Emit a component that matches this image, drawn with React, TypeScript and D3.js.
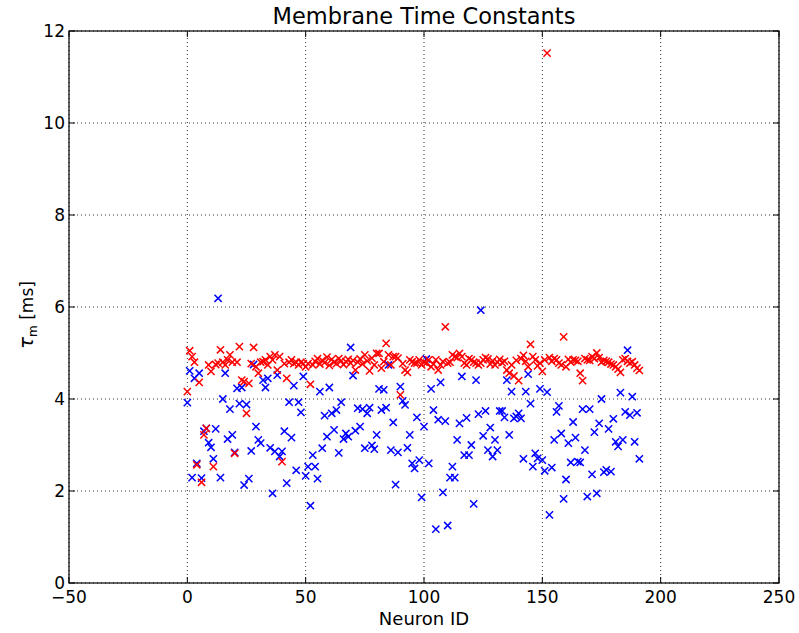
import React, { useRef, useEffect } from 'react';
import * as d3 from 'd3';

// membrane time constants per neuron (index = neuron ID)
const redValues: number[] = [
  4.16, 5.05, 4.92, 4.8, 2.57, 4.36, 2.19, 3.22, 3.36, 4.74,
  4.6, 2.53, 4.75, 4.78, 5.07, 4.8, 4.74, 4.85, 4.96, 4.8,
  2.82, 4.8, 5.14, 4.41, 4.38, 3.69, 4.34, 4.77, 5.12, 4.7,
  4.56, 4.8, 4.81, 4.85, 4.74, 4.92, 4.85, 4.96, 4.63, 4.92,
  2.64, 4.77, 4.45, 4.8, 4.85, 4.77, 4.8, 4.74, 4.8, 4.77,
  4.7, 4.77, 4.32, 4.74, 4.82, 4.88, 4.76, 4.84, 4.79, 4.91,
  4.73, 4.86, 4.8, 4.77, 4.88, 4.83, 4.75, 4.81, 4.86, 4.78,
  4.84, 4.63, 4.8, 4.87, 4.76, 4.96, 4.83, 4.61, 4.89, 4.74,
  4.99, 4.99, 4.67, 4.81, 5.21, 4.96, 4.74, 4.92, 4.92, 4.89,
  4.09, 4.77, 4.63, 4.58, 4.85, 4.81, 4.78, 4.78, 4.85, 4.74,
  4.8, 4.78, 4.85, 4.7, 4.76, 4.85, 4.63, 4.74, 4.81, 5.57,
  4.78, 4.8, 4.96, 4.92, 4.9, 4.99, 4.92, 4.78, 4.74, 4.88,
  4.85, 4.8, 4.78, 4.74, 4.78, 4.85, 4.9, 4.87, 4.76, 4.83,
  4.74, 4.8, 4.86, 4.79, 4.82, 4.63, 4.56, 4.74, 4.5, 4.84,
  4.4, 4.88, 4.95, 4.82, 4.7, 5.19, 4.92, 4.85, 4.72, 4.78,
  4.6, 4.85, 11.52, 4.9, 4.82, 4.88, 4.85, 4.78, 4.74, 5.35,
  4.7, 4.86, 4.8, 4.85, 4.84, 4.82, 4.56, 4.4, 4.88, 4.85,
  4.84, 4.92, 4.88, 5.0, 4.9, 4.8, 4.84, 4.82, 4.8, 4.76,
  4.74, 4.7, 4.65, 4.58, 4.85, 4.88, 4.82, 4.78, 4.81, 4.74,
  4.67, 4.62,
];

const blueValues: number[] = [
  3.92, 4.61, 2.29, 4.45, 2.6, 4.56, 2.28, 3.3, 3.36, 3.05,
  2.95, 2.7, 3.35, 6.19, 2.29, 4.0, 4.56, 3.13, 3.78, 3.22,
  2.84, 4.23, 3.9, 4.25, 2.13, 3.88, 2.27, 2.87, 4.75, 3.4,
  3.11, 3.04, 4.41, 4.25, 4.45, 2.94, 1.95, 2.86, 4.52, 2.75,
  2.86, 3.3, 2.17, 3.93, 3.16, 4.29, 2.45, 3.93, 3.71, 4.49,
  2.33, 2.53, 1.68, 2.78, 2.53, 2.27, 4.16, 2.93, 3.64, 3.18,
  4.25, 3.69, 3.33, 3.76, 2.83, 3.93, 3.13, 3.25, 3.18, 5.12,
  4.51, 3.31, 3.8, 3.4, 3.78, 2.93, 3.69, 3.81, 2.99, 2.91,
  3.22, 4.22, 3.76, 4.2, 3.81, 4.74, 2.89, 3.49, 2.14, 2.84,
  4.27, 3.96, 3.87, 2.94, 3.22, 2.6, 2.49, 3.6, 2.67, 1.86,
  3.4, 4.87, 2.6, 4.22, 3.76, 1.17, 3.55, 4.36, 1.97, 3.52,
  1.25, 2.29, 2.53, 2.29, 3.11, 3.47, 4.49, 2.78, 3.59, 2.78,
  3.0, 1.72, 4.41, 3.67, 5.93, 3.2, 3.74, 2.89, 3.38, 2.75,
  3.11, 2.89, 3.74, 3.74, 3.6, 4.41, 3.22, 4.16, 3.58, 3.62,
  3.69, 3.58, 2.7, 4.16, 4.54, 3.9, 2.53, 2.82, 2.71, 4.22,
  2.67, 2.44, 4.15, 1.48, 2.51, 3.11, 3.72, 3.85, 3.25, 1.83,
  2.25, 3.04, 2.62, 3.5, 3.16, 2.64, 2.62, 3.78, 2.89, 1.88,
  3.78, 2.36, 3.28, 1.95, 3.47, 4.0, 2.41, 2.46, 3.35, 2.42,
  3.57, 3.07, 2.97, 4.14, 3.11, 3.72, 5.06, 3.65, 4.05, 3.07,
  3.7, 2.7,
];

const xTicks = [-50, 0, 50, 100, 150, 200, 250];
const yTicks = [0, 2, 4, 6, 8, 10, 12];

const fmt = (v: number) => (v < 0 ? '\u2212' + Math.abs(v) : String(v));

const TimeConstants = () => {
  const svgRef = useRef<SVGSVGElement>(null);

  useEffect(() => {
    const svg = d3.select(svgRef.current);
    svg.selectAll('*').remove();

    const width = 799;
    const height = 633;
    const margin = { top: 31, right: 20, bottom: 50, left: 69 };
    const font = 'DejaVu Sans, sans-serif';

    svg.attr('width', width).attr('height', height);

    const x = d3.scaleLinear().domain([-50, 250]).range([margin.left, width - margin.right]);
    const y = d3.scaleLinear().domain([0, 12]).range([height - margin.bottom, margin.top]);

    const [x0, x1] = x.range();
    const [y0, y1] = y.range();

    // dotted grid
    const grid = svg.append('g').attr('stroke', '#000').attr('stroke-width', 0.8)
      .attr('stroke-dasharray', '1,3');
    grid.selectAll('.gx').data(xTicks).join('line')
      .attr('x1', d => x(d)).attr('x2', d => x(d)).attr('y1', y0).attr('y2', y1);
    grid.selectAll('.gy').data(yTicks).join('line')
      .attr('class', 'gy')
      .attr('y1', d => y(d)).attr('y2', d => y(d)).attr('x1', x0).attr('x2', x1);

    // markers
    const cross = 'M-3.6,-3.6L3.6,3.6M-3.6,3.6L3.6,-3.6';
    const plotSeries = (vals: number[], color: string) => {
      svg.append('g').selectAll('path').data(vals).join('path')
        .attr('d', cross)
        .attr('transform', (d, i) => `translate(${x(i)},${y(d)})`)
        .attr('fill', 'none')
        .attr('stroke', color)
        .attr('stroke-width', 1.5);
    };
    plotSeries(blueValues, '#0000ff');
    plotSeries(redValues, '#ff0000');

    // inward ticks on all sides
    const tk = svg.append('g').attr('stroke', '#000').attr('stroke-width', 1);
    xTicks.forEach(t => {
      tk.append('line').attr('x1', x(t)).attr('x2', x(t)).attr('y1', y0).attr('y2', y0 - 6);
      tk.append('line').attr('x1', x(t)).attr('x2', x(t)).attr('y1', y1).attr('y2', y1 + 6);
    });
    yTicks.forEach(t => {
      tk.append('line').attr('y1', y(t)).attr('y2', y(t)).attr('x1', x0).attr('x2', x0 + 6);
      tk.append('line').attr('y1', y(t)).attr('y2', y(t)).attr('x1', x1).attr('x2', x1 - 6);
    });

    svg.append('rect')
      .attr('x', x0).attr('y', y1).attr('width', x1 - x0).attr('height', y0 - y1)
      .attr('fill', 'none').attr('stroke', '#000').attr('stroke-width', 1.2);

    // tick labels
    svg.append('g').selectAll('text').data(xTicks).join('text')
      .attr('x', d => x(d)).attr('y', y0 + 20)
      .attr('text-anchor', 'middle')
      .style('font-family', font).style('font-size', '17px')
      .text(d => fmt(d));
    svg.append('g').selectAll('text').data(yTicks).join('text')
      .attr('x', x0 - 4).attr('y', d => y(d) + 6)
      .attr('text-anchor', 'end')
      .style('font-family', font).style('font-size', '17px')
      .text(d => fmt(d));

    svg.append('text')
      .attr('x', (x0 + x1) / 2).attr('y', 24)
      .attr('text-anchor', 'middle')
      .style('font-family', font).style('font-size', '22.5px')
      .text('Membrane Time Constants');

    svg.append('text')
      .attr('x', (x0 + x1) / 2).attr('y', 625)
      .attr('text-anchor', 'middle')
      .style('font-family', font).style('font-size', '18px')
      .text('Neuron ID');

    const yl = svg.append('text')
      .attr('transform', `translate(33,${(y0 + y1) / 2 + 8}) rotate(-90)`)
      .attr('text-anchor', 'middle')
      .style('font-family', font).style('font-size', '17px');
    yl.append('tspan').style('font-style', 'italic').style('font-size', '20px').text('\u03c4');
    yl.append('tspan').attr('dy', 4).style('font-size', '12px').text('m');
    yl.append('tspan').attr('dy', -4).text(' [ms]');
  }, []);

  return (
    <div style={{ position: 'absolute', left: 0, top: 0 }}>
      <svg ref={svgRef}></svg>
    </div>
  );
};

export default function App() {
  return <TimeConstants />;
}
